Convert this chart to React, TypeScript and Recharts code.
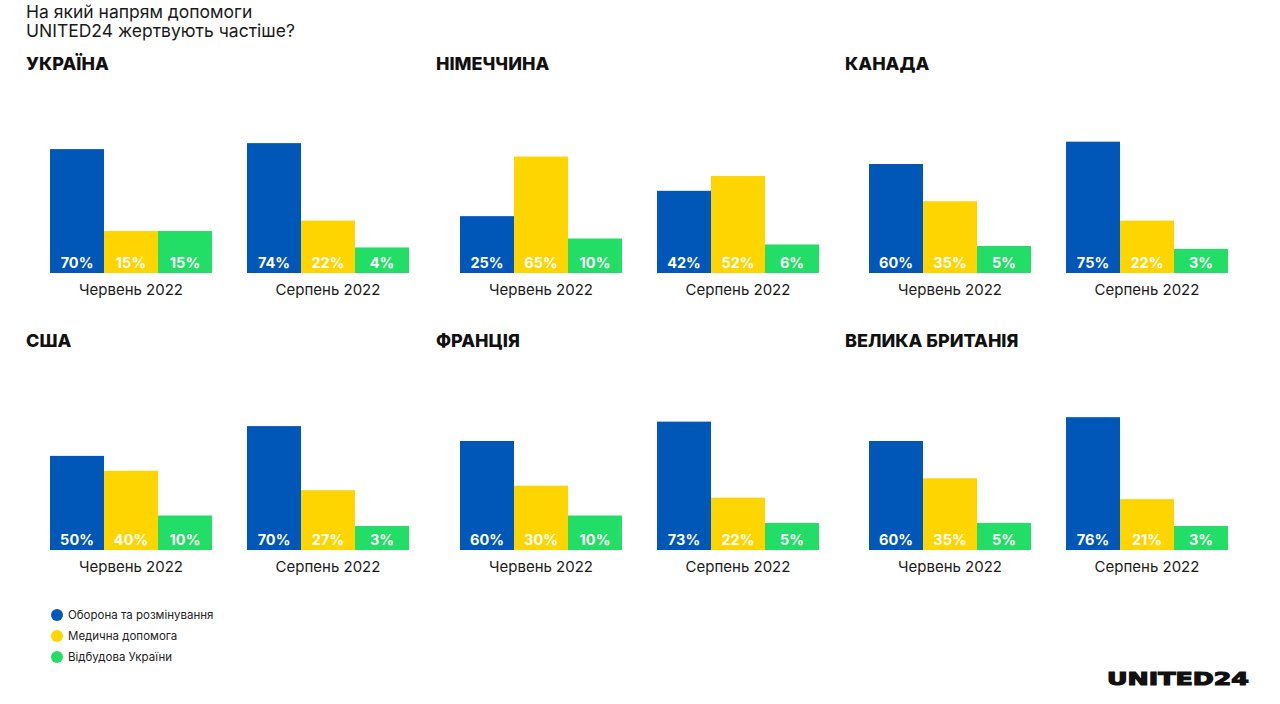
import React from 'react';
import { BarChart, Bar, XAxis, YAxis } from 'recharts';

const periods = ['Червень 2022', 'Серпень 2022'];
const countries = ['УКРАЇНА', 'НІМЕЧЧИНА', 'КАНАДА', 'США', 'ФРАНЦІЯ', 'ВЕЛИКА БРИТАНІЯ'];

// % per country, [June, August]
const defense = [[70, 74], [25, 42], [60, 75], [50, 70], [60, 73], [60, 76]];
const medical = [[15, 22], [65, 52], [35, 22], [40, 27], [30, 22], [35, 21]];
const rebuild = [[15, 4], [10, 6], [5, 3], [10, 3], [10, 5], [5, 3]];

const seriesNames = ['Оборона та розмінування', 'Медична допомога', 'Відбудова України'];
const COLORS = ['#0057b8', '#ffd500', '#22dd66'];
const KEYS = ['defense', 'medical', 'rebuild'];

const FONT = 'Inter, "Noto Sans", sans-serif';
const PAD = 19.6; // label band under every bar

const renderBar = (p: any, key: string) => {
  const { x, y, width, height, fill, payload } = p;
  const bottom = y + height + PAD;
  return (
    <g>
      <rect x={x} y={y} width={width} height={height + PAD} fill={fill} />
      <text x={x + width / 2} y={bottom - 5.5} textAnchor="middle" fill="#fff"
        fontFamily={FONT} fontWeight={700} fontSize={14.5}>
        {payload[key]}%
      </text>
    </g>
  );
};

const renderTick = (p: any) => (
  <text x={p.x} y={p.y + 41.5} textAnchor="middle" fill="#1a1a1a" fontFamily={FONT} fontSize={15}>
    {p.payload.value}
  </text>
);

const Panel: React.FC<{ idx: number; left: number; top: number }> = ({ idx, left, top }) => {
  const data = periods.map((period, i) => ({
    period,
    defense: defense[idx][i],
    medical: medical[idx][i],
    rebuild: rebuild[idx][i],
  }));
  return (
    <div style={{ position: 'absolute', left, top }}>
      <div style={{ position: 'absolute', left: 0, top: 0, fontFamily: FONT, fontWeight: 800, fontSize: 18, color: '#111', whiteSpace: 'nowrap' }}>
        {countries[idx]}
      </div>
      <div style={{ position: 'absolute', left: 0, top: 20 }}>
        <BarChart width={410} height={240} data={data}
          margin={{ top: 31.4, right: 9.5, bottom: 0, left: 6.5 }}
          barCategoryGap={17.5} barGap={0}>
          <XAxis dataKey="period" axisLine={false} tickLine={false} tickSize={0} tickMargin={0}
            height={59.6} tick={renderTick} interval={0} />
          <YAxis hide domain={[0, 100]} />
          {KEYS.map((k, i) => (
            <Bar key={k} dataKey={k} fill={COLORS[i]} isAnimationActive={false}
              shape={(p: any) => renderBar(p, k)} />
          ))}
        </BarChart>
      </div>
    </div>
  );
};

const colX = [26, 436, 845];
const rowY = [53, 330];

const App: React.FC = () => (
  <div style={{ position: 'absolute', left: 0, top: 0, width: 1280, height: 704, background: '#fff', overflow: 'hidden', fontFamily: FONT }}>
    <div style={{ position: 'absolute', left: 26, top: 2, fontSize: 17.5, lineHeight: '19px', color: '#1a1a1a' }}>
      На який напрям допомоги<br />UNITED24 жертвують частіше?
    </div>
    {countries.map((c, i) => (
      <Panel key={c} idx={i} left={colX[i % 3]} top={rowY[Math.floor(i / 3)]} />
    ))}
    <div style={{ position: 'absolute', left: 51, top: 604 }}>
      {seriesNames.map((n, i) => (
        <div key={n} style={{ display: 'flex', alignItems: 'center', height: 21, fontSize: 11.5, color: '#222' }}>
          <span style={{ width: 12, height: 12, borderRadius: 6, background: COLORS[i], marginRight: 5 }} />
          {n}
        </div>
      ))}
    </div>
    <svg style={{ position: 'absolute', left: 1100, top: 665 }} width={160} height={28}>
      <text x={7} y={20} textLength={142} lengthAdjust="spacingAndGlyphs"
        fontFamily='"DejaVu Sans", sans-serif' fontWeight={900} fontSize={18} fill="#111"
        stroke="#111" strokeWidth={1.2}>
        UNITED24
      </text>
    </svg>
  </div>
);

export default App;
